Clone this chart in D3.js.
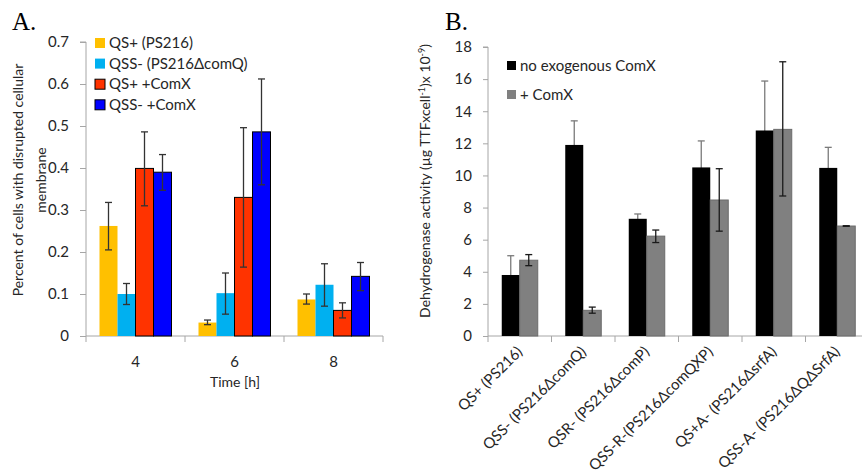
<!DOCTYPE html>
<html>
<head>
<meta charset="utf-8">
<script src="https://cdn.jsdelivr.net/npm/d3@7"></script>
<style>
  body { margin: 0; background: #fff; }
  svg { display: block; font-family: Lato, "Open Sans", sans-serif; }
  .axis path, .axis line { stroke: #a6a6a6; }
  .axis text { fill: #262626; font-size: 15px; font-family: Lato, sans-serif; }
</style>
</head>
<body>
<svg id="chart" width="862" height="475"></svg>
<script>
// ---- panel A data ----
const times = ["4", "6", "8"];
const seriesA = ["QS+ (PS216)", "QSS- (PS216\u0394comQ)", "QS+ +ComX", "QSS- +ComX"];
const colorsA = ["#ffc000", "#00b0f0", "#ff3300", "#0000ff"];
const strokeA = ["none", "none", "#000", "#000"];
// values per series, one per time point
const valuesA = [
  [0.262, 0.032, 0.087],
  [0.100, 0.102, 0.122],
  [0.399, 0.330, 0.061],
  [0.390, 0.486, 0.142],
];
const errLowA = [
  [0.205, 0.027, 0.076],
  [0.075, 0.052, 0.071],
  [0.310, 0.164, 0.043],
  [0.347, 0.360, 0.108],
];
const errHighA = [
  [0.318, 0.038, 0.100],
  [0.125, 0.150, 0.172],
  [0.486, 0.496, 0.079],
  [0.432, 0.612, 0.175],
];
const yTicksA = [0, 0.1, 0.2, 0.3, 0.4, 0.5, 0.6, 0.7];

// ---- panel B data ----
const strains = ["QS+ (PS216)", "QSS- (PS216\u0394comQ)", "QSR- (PS216\u0394comP)",
  "QSS-R-(PS216\u0394comQXP)", "QS+A- (PS216\u0394srfA)", "QSS-A- (PS216\u0394Q\u0394SrfA)"];
const seriesB = ["no exogenous ComX", "+ ComX"];
const colorsB = ["#000000", "#808080"];
const valuesB = [
  [3.8, 11.9, 7.3, 10.5, 12.8, 10.47],
  [4.72, 1.6, 6.22, 8.47, 12.87, 6.85],
];
const errLowB = [
  [2.6, 10.35, 7.0, 8.9, 9.75, 9.2],
  [4.38, 1.42, 5.82, 6.53, 8.72, 6.83],
];
const errHighB = [
  [5.0, 13.4, 7.6, 12.15, 15.88, 11.75],
  [5.07, 1.8, 6.6, 10.42, 17.08, 6.87],
];
const yTicksB = [0, 2, 4, 6, 8, 10, 12, 14, 16, 18];

const svg = d3.select("#chart");
svg.append("rect").attr("width", 862).attr("height", 475).attr("fill", "#fff");

function errorBars(g, cats, cx, y, lo, hi, color) {
  const eb = g.selectAll(".eb").data(cats).join("g").attr("class", "eb")
    .attr("stroke", color).attr("stroke-width", 1.3);
  eb.append("line").attr("x1", cx).attr("x2", cx)
    .attr("y1", (t, j) => y(lo[j])).attr("y2", (t, j) => y(hi[j]));
  eb.append("line").attr("x1", t => cx(t) - 3.5).attr("x2", t => cx(t) + 3.5)
    .attr("y1", (t, j) => y(lo[j])).attr("y2", (t, j) => y(lo[j]));
  eb.append("line").attr("x1", t => cx(t) - 3.5).attr("x2", t => cx(t) + 3.5)
    .attr("y1", (t, j) => y(hi[j])).attr("y2", (t, j) => y(hi[j]));
}

// ================= Panel A =================
const gA = svg.append("g");
const xA = d3.scaleBand().domain(times).range([86, 383]);
const xA1 = d3.scaleBand().domain(d3.range(seriesA.length)).range([13.5, xA.bandwidth() - 13.5]);
const yA = d3.scaleLinear().domain([0, 0.7]).range([336, 42]);

gA.append("g").attr("class", "axis")
  .attr("transform", "translate(86,0)")
  .call(d3.axisLeft(yA).tickValues(yTicksA).tickSize(6).tickPadding(11)
    .tickFormat(d => d === 0 ? "0" : d3.format(".1f")(d)))
  .call(g => g.select(".domain").attr("d", `M-6,${yA(0.7)}H0V${yA(0)}`));

const xAxisA = gA.append("g").attr("class", "axis").attr("transform", "translate(0,336)");
xAxisA.call(d3.axisBottom(xA).tickSize(0).tickPadding(20))
  .call(g => g.select(".domain").attr("d", `M${xA.range()[0]},0H${xA.range()[1]}`));
xAxisA.selectAll(".sep")
  .data(times.map(t => xA(t)).concat([xA.range()[1]]))
  .join("line").attr("class", "sep")
  .attr("x1", d => d).attr("x2", d => d).attr("y1", 0).attr("y2", 6);

seriesA.forEach((s, i) => {
  const g = gA.append("g");
  g.selectAll("rect").data(times).join("rect")
    .attr("x", t => xA(t) + xA1(i))
    .attr("y", (t, j) => yA(valuesA[i][j]))
    .attr("width", xA1.bandwidth())
    .attr("height", (t, j) => yA(0) - yA(valuesA[i][j]))
    .attr("fill", colorsA[i])
    .attr("stroke", strokeA[i]).attr("stroke-width", 1);
  errorBars(g, times, t => xA(t) + xA1(i) + xA1.bandwidth() / 2, yA,
    errLowA[i], errHighA[i], "#333");
});

// legend A
const legA = gA.append("g").attr("transform", "translate(95,38)");
seriesA.forEach((s, i) => {
  const row = legA.append("g").attr("transform", `translate(0,${i * 20.6})`);
  row.append("rect").attr("width", 10).attr("height", 10)
    .attr("fill", colorsA[i]).attr("stroke", strokeA[i]);
  row.append("text").attr("x", 14).attr("y", 10).attr("font-size", 15)
    .attr("fill", "#262626").text(s);
});

// titles A
gA.append("text").attr("x", 12).attr("y", 30)
  .attr("font-family", "'Liberation Serif', serif").attr("font-size", 25).text("A.");
const ytA = gA.append("text").attr("transform", "translate(23,180) rotate(-90)")
  .attr("text-anchor", "middle").attr("font-size", 14).attr("fill", "#262626");
ytA.append("tspan").attr("x", 0).attr("y", 0).text("Percent of cells with disrupted cellular");
ytA.append("tspan").attr("x", 0).attr("y", 23).text("membrane");
gA.append("text").attr("x", 235).attr("y", 387).attr("text-anchor", "middle")
  .attr("font-size", 14).attr("fill", "#262626").text("Time [h]");

// ================= Panel B =================
const gB = svg.append("g");
const xB = d3.scaleBand().domain(strains).range([488, 869]);
const xB1 = d3.scaleBand().domain(d3.range(seriesB.length)).range([13.75, xB.bandwidth() - 13.75]);
const yB = d3.scaleLinear().domain([0, 18]).range([336, 47]);

gB.append("g").attr("class", "axis")
  .attr("transform", "translate(488,0)")
  .call(d3.axisLeft(yB).tickValues(yTicksB).tickSize(5).tickPadding(11))
  .call(g => g.select(".domain").attr("d", `M-5,${yB(18)}H0V${yB(0)}`));

const xAxisB = gB.append("g").attr("class", "axis").attr("transform", "translate(0,336)");
xAxisB.append("line").attr("x1", xB.range()[0]).attr("x2", 862).attr("y1", 0).attr("y2", 0);
xAxisB.selectAll(".sep")
  .data(strains.map(s => xB(s)))
  .join("line").attr("class", "sep")
  .attr("x1", d => d).attr("x2", d => d).attr("y1", 0).attr("y2", 6);
xAxisB.selectAll(".lbl").data(strains).join("text").attr("class", "lbl")
  .attr("transform", s => `translate(${xB(s) + xB.bandwidth() / 2},${13}) rotate(-45)`)
  .attr("text-anchor", "end").attr("dy", "0.35em")
  .attr("font-size", 15).attr("fill", "#262626").text(s => s);

seriesB.forEach((s, i) => {
  const g = gB.append("g");
  const cx = t => xB(t) + xB1(i) + xB1.bandwidth() / 2;
  // the black series' error bars sit behind the bar, so only the upper half shows
  const eg = g.append("g");
  g.selectAll("rect").data(strains).join("rect")
    .attr("x", t => xB(t) + xB1(i))
    .attr("y", (t, j) => yB(valuesB[i][j]))
    .attr("width", xB1.bandwidth())
    .attr("height", (t, j) => yB(0) - yB(valuesB[i][j]))
    .attr("fill", colorsB[i])
    .attr("stroke", i === 1 ? "#6b6b6b" : "none").attr("stroke-width", 1);
  if (i === 0) errorBars(eg, strains, cx, yB, errLowB[i], errHighB[i], "#7a7a7a");
  else errorBars(g.append("g"), strains, cx, yB, errLowB[i], errHighB[i], "#1a1a1a");
});

// legend B
const legB = gB.append("g").attr("transform", "translate(507,61)");
seriesB.forEach((s, i) => {
  const row = legB.append("g").attr("transform", `translate(0,${i * 29})`);
  row.append("rect").attr("width", 9).attr("height", 9).attr("fill", colorsB[i]);
  row.append("text").attr("x", 13).attr("y", 9.5).attr("font-size", 15)
    .attr("fill", "#262626").text(s);
});

// titles B
gB.append("text").attr("x", 445).attr("y", 30)
  .attr("font-family", "'Liberation Serif', serif").attr("font-size", 25).text("B.");
const ytB = gB.append("text").attr("transform", "translate(430,181) rotate(-90)")
  .attr("text-anchor", "middle").attr("font-size", 14).attr("fill", "#262626");
ytB.append("tspan").text("Dehydrogenase activity (\u00b5g TTFxcell");
ytB.append("tspan").attr("font-size", 9).attr("dy", -5).text("-1");
ytB.append("tspan").attr("dy", 5).text(")x 10");
ytB.append("tspan").attr("font-size", 9).attr("dy", -5).text("-9");
ytB.append("tspan").attr("dy", 5).text(")");
</script>
</body>
</html>
